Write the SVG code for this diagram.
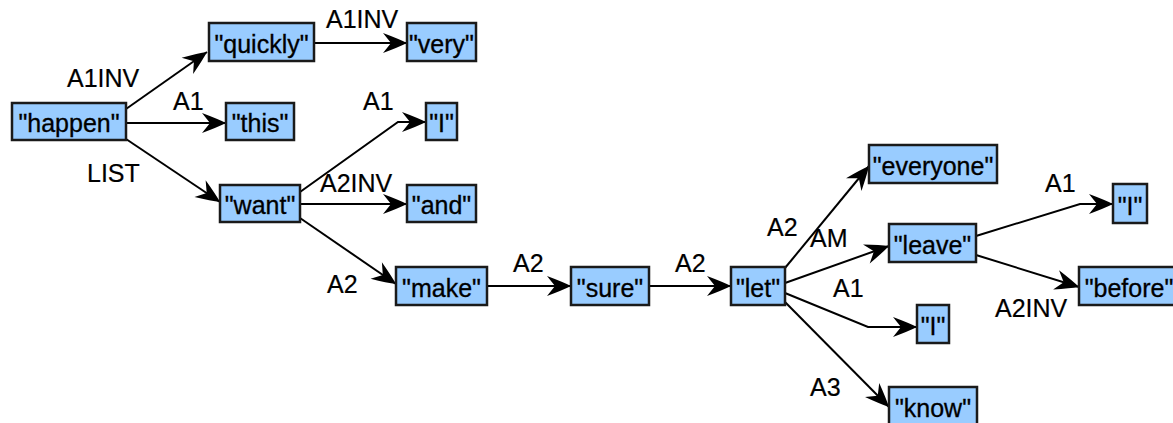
<svg xmlns="http://www.w3.org/2000/svg" width="1173" height="423" viewBox="0 0 1173 423">
<defs>
<marker id="arr" markerUnits="userSpaceOnUse" markerWidth="26" markerHeight="22" refX="24" refY="10" orient="auto" overflow="visible">
<path d="M0,0 Q16,6 24,10 Q16,14 0,20 L8,10 Z" fill="#000"/>
</marker>
<style>
.n rect{fill:#99ccff;stroke:#1a1a1a;stroke-width:2.5}
.n text{font-family:"Liberation Sans",Arial,sans-serif;font-size:25px;fill:#000;stroke:#000;stroke-width:0.3;text-anchor:middle}
.e path{fill:none;stroke:#000;stroke-width:2;marker-end:url(#arr)}
.l text{font-family:"Liberation Sans",Arial,sans-serif;font-size:25px;fill:#000;stroke:#000;stroke-width:0.2}
</style>
</defs>
<rect width="1173" height="423" fill="#fff"/>
<g id="connectors" class="e">
<path d="M126,109 L207,52"/>
<path d="M314,43 L407,43"/>
<path d="M126,123 L226,123"/>
<path d="M126,139 L220,202"/>
<path d="M300,192 L398,122 L426,122"/>
<path d="M300,204 L407,204"/>
<path d="M300,218 L396,284"/>
<path d="M487,286 L571,286"/>
<path d="M649,286 L731,286"/>
<path d="M785,268 L869,166"/>
<path d="M785,283 L889,246"/>
<path d="M785,293 L868,327 L917,327"/>
<path d="M785,302 L889,407"/>
<path d="M976,236 L1080,204 L1113,204"/>
<path d="M976,255 L1079,287"/>
</g>
<g id="labels" class="l">
<text x="67" y="87">A1INV</text>
<text x="326" y="28">A1INV</text>
<text x="173" y="110">A1</text>
<text x="363" y="110">A1</text>
<text x="87" y="182">LIST</text>
<text x="320" y="192">A2INV</text>
<text x="327" y="293">A2</text>
<text x="513" y="272">A2</text>
<text x="675" y="272">A2</text>
<text x="767" y="236">A2</text>
<text x="810" y="247">AM</text>
<text x="833" y="297">A1</text>
<text x="1045" y="192">A1</text>
<text x="995" y="317">A2INV</text>
<text x="810" y="396">A3</text>
</g>
<g id="n-happen" class="n"><rect x="12" y="103" width="114" height="37"/><text x="69" y="132">"happen"</text></g>
<g id="n-quickly" class="n"><rect x="209" y="23" width="105" height="38"/><text x="261.5" y="53">"quickly"</text></g>
<g id="n-very" class="n"><rect x="407" y="23" width="69" height="38"/><text x="441.5" y="53">"very"</text></g>
<g id="n-this" class="n"><rect x="226" y="103" width="68" height="37"/><text x="260" y="132">"this"</text></g>
<g id="n-I1" class="n"><rect x="426" y="103" width="31" height="37"/><text x="441.5" y="132">"I"</text></g>
<g id="n-want" class="n"><rect x="220" y="185" width="80" height="37"/><text x="260" y="214">"want"</text></g>
<g id="n-and" class="n"><rect x="407" y="185" width="69" height="37"/><text x="441.5" y="214">"and"</text></g>
<g id="n-make" class="n"><rect x="396" y="267" width="91" height="38"/><text x="441.5" y="297">"make"</text></g>
<g id="n-sure" class="n"><rect x="571" y="267" width="78" height="38"/><text x="610" y="297">"sure"</text></g>
<g id="n-let" class="n"><rect x="731" y="267" width="54" height="38"/><text x="758" y="297">"let"</text></g>
<g id="n-everyone" class="n"><rect x="869" y="145" width="128" height="38"/><text x="933" y="175">"everyone"</text></g>
<g id="n-leave" class="n"><rect x="889" y="224" width="87" height="38"/><text x="932.5" y="254">"leave"</text></g>
<g id="n-I2" class="n"><rect x="1113" y="184" width="34" height="39"/><text x="1130" y="215">"I"</text></g>
<g id="n-before" class="n"><rect x="1079" y="267" width="100" height="38"/><text x="1129" y="297">"before"</text></g>
<g id="n-I3" class="n"><rect x="917" y="305" width="32" height="38"/><text x="933" y="335">"I"</text></g>
<g id="n-know" class="n"><rect x="889" y="387" width="88" height="40"/><text x="933" y="417">"know"</text></g>
</svg>
